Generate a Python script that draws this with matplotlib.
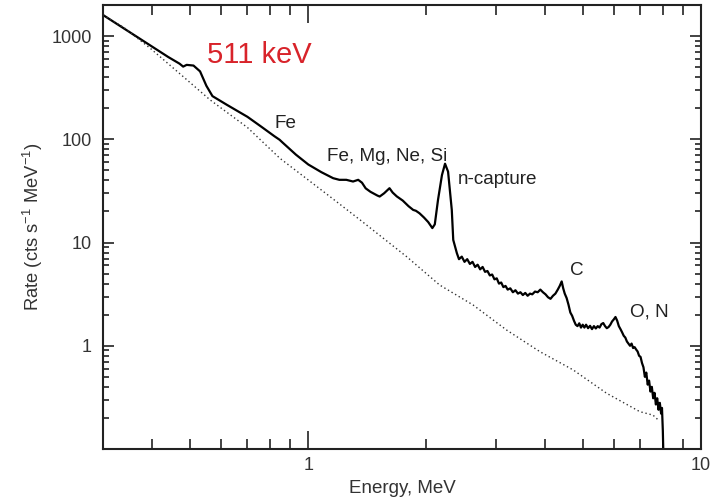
"""
Background spectrum: rate vs energy (log-log) with line annotations.
"""

import matplotlib
matplotlib.use("Agg")
import matplotlib.pyplot as plt
from matplotlib.ticker import LogLocator, NullFormatter, FixedLocator, FixedFormatter

# ── Data ──────────────────────────────────────────────────────────
energy_mev = [
    0.30, 0.33, 0.36, 0.40, 0.44, 0.47, 0.48, 0.49, 0.51, 0.53, 0.55, 0.57,
    0.62, 0.70, 0.76, 0.82, 0.845, 0.86, 0.93, 1.00, 1.08, 1.157, 1.20, 1.25,
    1.30, 1.34, 1.37, 1.40, 1.44, 1.50, 1.52, 1.56, 1.61, 1.64, 1.68, 1.74,
    1.80, 1.85, 1.88, 1.92, 1.97, 2.02, 2.07, 2.10, 2.14, 2.19, 2.23, 2.27,
    2.32, 2.34, 2.39,
    2.42, 2.46, 2.50, 2.54, 2.58, 2.62, 2.66, 2.70, 2.74, 2.78, 2.82, 2.86,
    2.90, 2.94, 2.98, 3.02, 3.06, 3.10, 3.14, 3.18, 3.22, 3.27, 3.32, 3.37,
    3.42, 3.47, 3.52, 3.57, 3.62, 3.67, 3.72, 3.78, 3.84, 3.90, 3.96, 4.02,
    4.08, 4.14, 4.20, 4.26, 4.32, 4.37, 4.42, 4.46, 4.50, 4.55, 4.60, 4.65,
    4.70, 4.75, 4.80, 4.85, 4.90, 4.95, 5.00, 5.05, 5.10, 5.16, 5.22, 5.28,
    5.34, 5.40, 5.46, 5.52, 5.58, 5.64, 5.70, 5.76, 5.82, 5.88, 5.94, 6.00,
    6.06, 6.12, 6.18, 6.24, 6.30, 6.36, 6.42, 6.48, 6.54, 6.60, 6.66, 6.72,
    6.78, 6.84, 6.90, 6.96, 7.02, 7.08, 7.14, 7.20, 7.26, 7.32, 7.38, 7.44,
    7.50, 7.56, 7.62, 7.68, 7.74, 7.80, 7.86, 7.92, 7.96, 8.00, 8.03,
]
rate = [
    1600, 1267, 1023, 791, 626, 540, 506, 526, 518, 455, 330, 262,
    216, 165, 132, 107, 99, 93, 71, 57, 48, 42, 40.5, 40.5,
    39, 40.5, 38, 33.5, 31, 28.5, 27.9, 30, 33.6, 30.5, 28, 25.5,
    22.5, 20.7, 20.3, 19.2, 17.5, 15.8, 13.8, 15, 25.9, 45, 58, 48.6,
    20.7, 10.6, 7.9,
    6.9, 7.3, 6.5, 6.9, 6.2, 6.5, 5.8, 6.1, 5.5, 5.8, 5.2, 5.3,
    4.8, 4.9, 4.4, 4.5, 4.0, 4.1, 3.7, 3.8, 3.5, 3.6, 3.3, 3.45,
    3.2, 3.3, 3.1, 3.25, 3.05, 3.2, 3.15, 3.35, 3.3, 3.5, 3.3, 3.15,
    2.95, 2.85, 3.05, 3.2, 3.5, 3.8, 4.2, 3.6, 3.2, 2.9, 2.5, 2.1,
    1.95, 1.75, 1.6, 1.55, 1.65, 1.5, 1.6, 1.5, 1.6, 1.48, 1.56, 1.45,
    1.55, 1.47, 1.55, 1.5, 1.62, 1.66, 1.55, 1.48, 1.52, 1.6, 1.72, 1.8,
    1.9, 1.75, 1.55, 1.45, 1.35, 1.25, 1.2, 1.1, 1.05, 1.0, 1.05, 0.95,
    0.97, 0.92, 0.88, 0.8, 0.78, 0.68, 0.62, 0.5, 0.55, 0.42, 0.46, 0.36,
    0.4, 0.31, 0.35, 0.27, 0.31, 0.24, 0.28, 0.22, 0.25, 0.15, 0.08,
]

# Continuum model (dotted)
model_energy = [0.30, 0.34, 0.396, 0.48, 0.562, 0.70, 0.846, 1.135, 1.354,
                1.78, 2.16, 2.63, 3.20, 3.89, 4.73, 5.75, 6.99, 7.55, 7.80]
model_rate = [1600, 1200, 760, 405, 241, 130, 65.6, 27.9, 16.6,
              7.3, 3.88, 2.48, 1.42, 0.877, 0.583, 0.347, 0.230, 0.213, 0.19]

# Line labels: text, energy, rate, horizontal alignment
labels = ["Fe", "Fe, Mg, Ne, Si", "n-capture", "C", "O, N"]
label_energy = [0.877, 1.115, 2.40, 4.83, 6.59]
label_rate = [141, 67.5, 40.5, 5.3, 2.12]
label_ha = ["center", "left", "left", "center", "left"]

x_ticks = [1, 10]
x_tick_labels = ["1", "10"]
y_ticks = [1, 10, 100, 1000]
y_tick_labels = ["1", "10", "100", "1000"]

# ── Plot ───────────────────────────────────────────────────────────
plt.rcParams["font.family"] = ["Liberation Sans", "DejaVu Sans"]
plt.rcParams["mathtext.fontset"] = "custom"
plt.rcParams["mathtext.rm"] = "Liberation Sans"
plt.rcParams["mathtext.it"] = "Liberation Sans:italic"

fig = plt.figure(figsize=(7.13, 4.99), dpi=100)
ax = fig.add_axes([0.1445, 0.1002, 0.8385, 0.8898])

ax.plot(energy_mev, rate, color="black", lw=1.6)
ax.plot(model_energy, model_rate, color="#333333", lw=1.0, linestyle=(0, (1, 2)))

ax.set_xscale("log")
ax.set_yscale("log")
ax.set_xlim(0.3, 10)
ax.set_ylim(0.1, 2000)

ax.xaxis.set_major_locator(FixedLocator(x_ticks))
ax.xaxis.set_major_formatter(FixedFormatter(x_tick_labels))
ax.xaxis.set_minor_locator(LogLocator(base=10, subs=range(2, 10)))
ax.xaxis.set_minor_formatter(NullFormatter())
ax.yaxis.set_major_locator(FixedLocator(y_ticks))
ax.yaxis.set_major_formatter(FixedFormatter(y_tick_labels))
ax.yaxis.set_minor_locator(LogLocator(base=10, subs=range(2, 10)))
ax.yaxis.set_minor_formatter(NullFormatter())

ax.tick_params(axis="both", which="both", direction="in", top=True, right=True,
               width=1.2, colors="#222222", labelcolor="#333333", labelsize=13)
ax.tick_params(axis="x", which="major", length=13, pad=6)
ax.tick_params(axis="x", which="minor", length=7)
ax.tick_params(axis="y", which="major", length=8, pad=8)
ax.tick_params(axis="y", which="minor", length=4)

for spine in ax.spines.values():
    spine.set_linewidth(1.5)
    spine.set_color("#222222")

ax.set_xlabel("Energy, MeV", fontsize=13.5, color="#333333", labelpad=4)
ax.set_ylabel(r"Rate (cts s$^{-1}$ MeV$^{-1}$)", fontsize=13.2, color="#333333",
              labelpad=5)

# Annotations
ax.text(0.552, 658, "511 keV", color="#d8232a", fontsize=21, ha="left", va="center")
for txt, e, r, ha in zip(labels, label_energy, label_rate, label_ha):
    ax.text(e, r, txt, fontsize=13.6, color="#222222", ha=ha, va="center")

plt.savefig("out.png", dpi=100)
